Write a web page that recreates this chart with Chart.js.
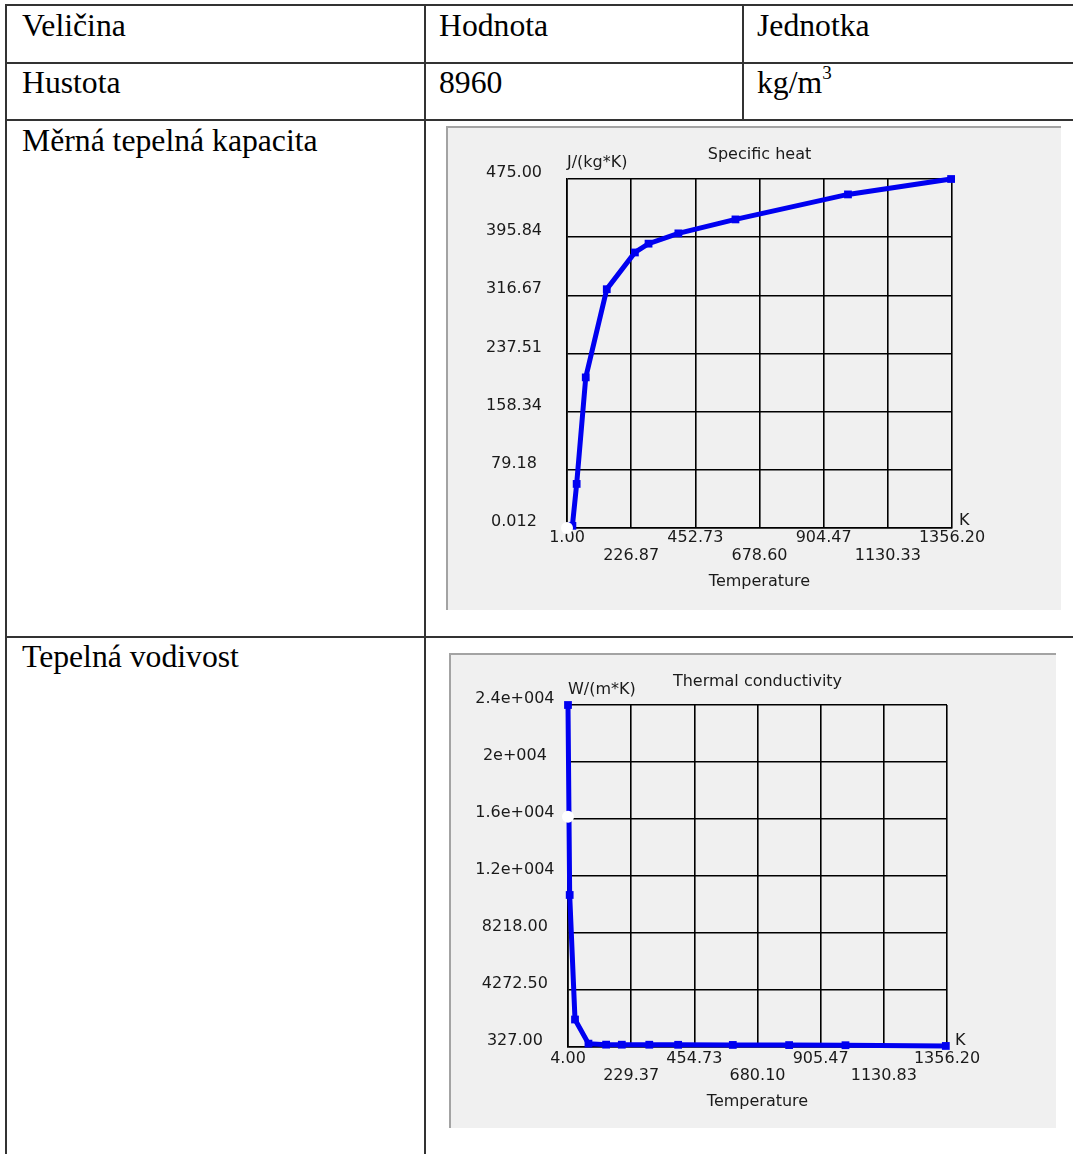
<!DOCTYPE html>
<html>
<head>
<meta charset="utf-8">
<script src="https://cdn.jsdelivr.net/npm/chart.js@4.4.1/dist/chart.umd.min.js"></script>
<style>
  body { margin: 0; background: #fff; }
  #page { position: relative; width: 1073px; height: 1154px; overflow: hidden; font-family: "Liberation Serif", "Times New Roman", serif; }
  .hl { position: absolute; height: 2px; background: #333; }
  .vl { position: absolute; width: 2px; background: #333; }
  .cell { position: absolute; font-size: 31.7px; line-height: 1; color: #000; white-space: nowrap; }
  .cell sup { font-size: 19px; position: relative; top: -4px; vertical-align: top; }
  .panel { position: absolute; background: #f0f0f0; border-top: 2px solid #a3a3a3; border-left: 2px solid #a3a3a3; box-sizing: border-box; }
  .panel canvas { position: absolute; left: -2px; top: -2px; }
</style>
</head>
<body>
<div id="page">
  <div class="hl" style="left:5px; top:4px; width:1068px;"></div>
  <div class="hl" style="left:5px; top:62px; width:1068px;"></div>
  <div class="hl" style="left:5px; top:119px; width:1068px;"></div>
  <div class="hl" style="left:5px; top:636px; width:1068px;"></div>
  <div class="vl" style="left:5px; top:4px; height:1150px;"></div>
  <div class="vl" style="left:424px; top:4px; height:1150px;"></div>
  <div class="vl" style="left:742px; top:4px; height:117px;"></div>

  <div class="cell" style="left:22px; top:10px;">Veličina</div>
  <div class="cell" style="left:439px; top:10px;">Hodnota</div>
  <div class="cell" style="left:757px; top:10px;">Jednotka</div>
  <div class="cell" style="left:22px; top:67px;">Hustota</div>
  <div class="cell" style="left:439px; top:67px;">8960</div>
  <div class="cell" style="left:757px; top:67px;">kg/m<sup>3</sup></div>
  <div class="cell" style="left:22px; top:125px;">Měrná tepelná kapacita</div>
  <div class="cell" style="left:22px; top:641px;">Tepelná vodivost</div>

  <div class="panel" style="left:446px; top:126px; width:615px; height:484px;">
    <canvas id="heatChart" width="615" height="484"></canvas>
  </div>
  <div class="panel" style="left:449px; top:653px; width:607px; height:475px;">
    <canvas id="condChart" width="607" height="475"></canvas>
  </div>
</div>

<script>
// specific heat of copper, J/(kg*K) vs temperature K
const heatTemp = [1, 20, 35, 67, 141, 240, 288, 393, 594, 990, 1353];
const heatValue = [0.012, 3, 60, 205, 325, 375, 387, 401, 420, 454, 475];
const heatMark = [{ x: 1, y: 0.012 }];
const heatXTicks = [1.00, 226.87, 452.73, 678.60, 904.47, 1130.33, 1356.20];
const heatXLabels = ['1.00', '226.87', '452.73', '678.60', '904.47', '1130.33', '1356.20'];
const heatYTicks = [0.012, 79.18, 158.34, 237.51, 316.67, 395.84, 475.00];
const heatYLabels = ['0.012', '79.18', '158.34', '237.51', '316.67', '395.84', '475.00'];

// thermal conductivity, W/(m*K) vs temperature K
const condTemp = [4, 10, 29, 77, 140, 196, 294, 397, 592, 793, 994, 1352];
const condValue = [24000, 10850, 2230, 560, 490, 487, 485, 480, 470, 460, 450, 400];
const condMark = [{ x: 4, y: 16260 }];
const condXTicks = [4.00, 229.37, 454.73, 680.10, 905.47, 1130.83, 1356.20];
const condXLabels = ['4.00', '229.37', '454.73', '680.10', '905.47', '1130.83', '1356.20'];
const condYTicks = [327, 4272.5, 8218, 12163.5, 16109, 20054.5, 24000];
const condYLabels = ['327.00', '4272.50', '8218.00', '1.2e+004', '1.6e+004', '2e+004', '2.4e+004'];

Chart.defaults.font.family = '"DejaVu Sans", Verdana, sans-serif';
Chart.defaults.font.size = 16;
Chart.defaults.color = '#1a1a1a';
Chart.defaults.animation = false;

const lineBlue = '#0000f0';

// title, unit, K and axis name around the plot box
const panelText = {
    id: 'panelText',
    afterDraw(chart, args, opts) {
        const a = chart.chartArea;
        const ctx = chart.ctx;
        ctx.save();
        ctx.font = '16px "DejaVu Sans", Verdana, sans-serif';
        ctx.fillStyle = '#1a1a1a';
        ctx.textBaseline = 'middle';
        ctx.textAlign = 'center';
        ctx.fillText(opts.title, (a.left + a.right) / 2, a.top + opts.titleDy);
        ctx.fillText(opts.xName, (a.left + a.right) / 2, a.bottom + opts.xNameDy);
        ctx.textAlign = 'left';
        ctx.fillText(opts.unit, a.left, a.top + opts.unitDy);
        ctx.fillText('K', a.right + opts.kDx, a.bottom + opts.kDy);
        ctx.restore();
    }
};

function makeChart(id, xs, ys, mark, xTicks, xLabels, yTicks, yLabels, geo, text) {
    const ctx = document.getElementById(id).getContext('2d');
    return new Chart(ctx, {
        type: 'line',
        data: {
            datasets: [{
                data: mark,
                showLine: false,
                pointStyle: 'circle',
                pointRadius: 6,
                pointBackgroundColor: '#ffffff',
                pointBorderWidth: 0,
                clip: false
            }, {
                data: xs.map((x, i) => ({ x: x, y: ys[i] })),
                borderColor: lineBlue,
                borderWidth: 5,
                tension: 0,
                pointStyle: 'rect',
                pointRadius: 5.5,
                pointBackgroundColor: lineBlue,
                pointBorderColor: lineBlue,
                pointBorderWidth: 0,
                clip: false
            }]
        },
        options: {
            responsive: false,
            layout: { padding: { left: 0, top: geo.top, right: geo.right, bottom: 0 } },
            plugins: {
                legend: { display: false },
                tooltip: { enabled: false },
                panelText: text
            },
            scales: {
                x: {
                    type: 'linear',
                    min: xTicks[0],
                    max: xTicks[xTicks.length - 1],
                    afterBuildTicks: (axis) => { axis.ticks = xTicks.map(v => ({ value: v })); },
                    afterFit: (axis) => { axis.height = geo.xHeight; },
                    grid: { color: '#000', lineWidth: 1.6, drawTicks: false },
                    border: { display: true, color: '#000', width: 1.6 },
                    ticks: {
                        autoSkip: false,
                        maxRotation: 0,
                        padding: geo.xPad,
                        font: { size: 16, lineHeight: geo.xLine },
                        callback: (v, i) => (i % 2 ? ['', xLabels[i]] : xLabels[i])
                    }
                },
                y: {
                    type: 'linear',
                    min: yTicks[0],
                    max: yTicks[yTicks.length - 1],
                    afterBuildTicks: (axis) => { axis.ticks = yTicks.map(v => ({ value: v })); },
                    afterFit: (axis) => { axis.width = geo.yWidth; },
                    grid: { color: '#000', lineWidth: 1.6, drawTicks: false },
                    border: { display: true, color: '#000', width: 1.6 },
                    ticks: {
                        autoSkip: false,
                        crossAlign: 'center',
                        padding: geo.yPad,
                        labelOffset: -6,
                        callback: (v, i) => yLabels[i]
                    }
                }
            }
        },
        plugins: [panelText]
    });
}

makeChart('heatChart', heatTemp, heatValue, heatMark, heatXTicks, heatXLabels, heatYTicks, heatYLabels,
    { top: 53, right: 109, xHeight: 82, yWidth: 121, xPad: 1, xLine: 1.125, yPad: 25 },
    { title: 'Specific heat', unit: 'J/(kg*K)', xName: 'Temperature', titleDy: -24, unitDy: -16, xNameDy: 54, kDx: 7, kDy: -7 });

makeChart('condChart', condTemp, condValue, condMark, condXTicks, condXLabels, condYTicks, condYLabels,
    { top: 52, right: 109, xHeight: 81, yWidth: 119, xPad: 3.5, xLine: 1.06, yPad: 13.5 },
    { title: 'Thermal conductivity', unit: 'W/(m*K)', xName: 'Temperature', titleDy: -23, unitDy: -15, xNameDy: 55, kDx: 8, kDy: -6 });
</script>
</body>
</html>
